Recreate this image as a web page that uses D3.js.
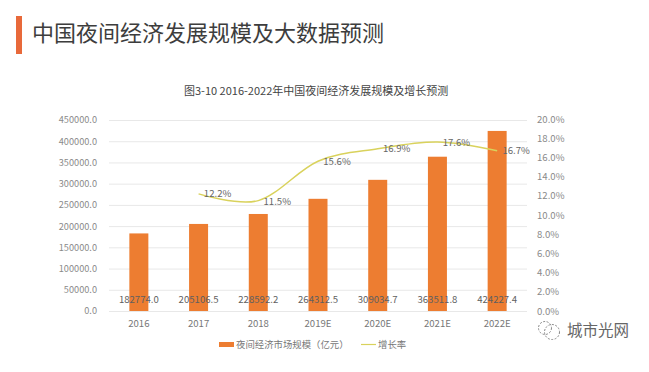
<!DOCTYPE html>
<html>
<head>
<meta charset="utf-8">
<script src="https://cdn.jsdelivr.net/npm/d3@7"></script>
<style>
  html, body { margin: 0; padding: 0; background: #fff; }
  svg { display: block; }
  text { font-family: "Noto Sans CJK SC", "Noto Sans", sans-serif; }
</style>
</head>
<body>
<svg id="chart" width="649" height="372"></svg>
<script>
const years = ["2016", "2017", "2018", "2019E", "2020E", "2021E", "2022E"];
const market = [182774.0, 205106.5, 228592.2, 264312.5, 309034.7, 363511.8, 424227.4];
const growth = [null, 12.2, 11.5, 15.6, 16.9, 17.6, 16.7];
const left_ticks = [0, 50000, 100000, 150000, 200000, 250000, 300000, 350000, 400000, 450000];
const right_ticks = [0, 2, 4, 6, 8, 10, 12, 14, 16, 18, 20];

const svg = d3.select("#chart");

const dim = {left: 109, right: 527, top: 120, bottom: 311};

const x = d3.scaleBand().domain(years).range([dim.left, dim.right]);
const y = d3.scaleLinear().domain([0, 450000]).range([dim.bottom, dim.top]);
const y2 = d3.scaleLinear().domain([0, 20]).range([dim.bottom, dim.top - 1]);

// page heading
svg.append("rect")
  .attr("x", 16).attr("y", 16)
  .attr("width", 6).attr("height", 38)
  .style("fill", "#e8693a");

svg.append("text")
  .attr("x", 32).attr("y", 41)
  .style("font-size", "22px")
  .style("fill", "#3d3d3d")
  .text("中国夜间经济发展规模及大数据预测");

svg.append("text")
  .attr("x", 184).attr("y", 95)
  .style("font-size", "11px")
  .style("fill", "#444")
  .text("图3-10 2016-2022年中国夜间经济发展规模及增长预测");

// grid + axes
const y_axis = svg.append("g")
  .attr("transform", "translate(" + dim.left + ",0)")
  .call(d3.axisLeft(y).tickValues(left_ticks).tickFormat(d => d.toFixed(1)).tickSize(0).tickPadding(12));

y_axis.select(".domain").remove();
y_axis.selectAll("text")
  .style("font-size", "9.2px")
  .style("fill", "#8a8a8a");

y_axis.selectAll("g.tick")
  .append("line")
  .attr("x1", 0)
  .attr("x2", dim.right - dim.left)
  .style("stroke", "#e8e8e8");

const y2_axis = svg.append("g")
  .attr("transform", "translate(" + dim.right + ",0)")
  .call(d3.axisRight(y2).tickValues(right_ticks).tickFormat(d => d.toFixed(1) + "%").tickSize(0).tickPadding(10));

y2_axis.select(".domain").remove();
y2_axis.selectAll("text")
  .style("font-size", "9.6px")
  .style("fill", "#8a8a8a");

const x_axis = svg.append("g")
  .attr("transform", "translate(0," + dim.bottom + ")")
  .call(d3.axisBottom(x).tickSize(0).tickPadding(9));

x_axis.select(".domain").remove();
x_axis.selectAll("text")
  .style("font-size", "9.6px")
  .style("fill", "#777");

// bars
const bar_w = 19;
svg.append("g").selectAll("rect")
  .data(market)
  .join("rect")
  .attr("x", (d, i) => x(years[i]) + x.bandwidth() / 2 - bar_w / 2)
  .attr("y", d => y(d))
  .attr("width", bar_w)
  .attr("height", d => y(0) - y(d))
  .style("fill", "#ed7d31");

// growth line
const line_data = growth.map((d, i) => ({year: years[i], value: d})).filter(d => d.value !== null);

const line = d3.line()
  .x(d => x(d.year) + x.bandwidth() / 2)
  .y(d => y2(d.value))
  .curve(d3.curveCatmullRom.alpha(0));

svg.append("path")
  .datum(line_data)
  .attr("d", line)
  .style("fill", "none")
  .style("stroke", "#d9d25c")
  .style("stroke-width", 1.5);

// data labels
svg.append("g").selectAll("text")
  .data(market)
  .join("text")
  .attr("x", (d, i) => x(years[i]) + x.bandwidth() / 2)
  .attr("y", 303)
  .style("text-anchor", "middle")
  .style("font-size", "9.6px")
  .style("fill", "#5f5f5f")
  .text(d => d.toFixed(1));

svg.append("g").selectAll("text")
  .data(line_data)
  .join("text")
  .attr("x", d => x(d.year) + x.bandwidth() / 2 + 19)
  .attr("y", (d, i) => y2(d.value) + [3.5, 4.5, 4, 3.5, 3.5, 3.5][i])
  .style("text-anchor", "middle")
  .style("font-size", "9.6px")
  .style("fill", "#666")
  .text(d => d.value.toFixed(1) + "%");

// legend
const legend = svg.append("g");

legend.append("rect")
  .attr("x", 219).attr("y", 342)
  .attr("width", 15).attr("height", 5)
  .style("fill", "#ed7d31");

legend.append("text")
  .attr("x", 236).attr("y", 348)
  .style("font-size", "9.4px")
  .style("fill", "#777")
  .text("夜间经济市场规模（亿元）");

legend.append("line")
  .attr("x1", 361).attr("x2", 376)
  .attr("y1", 344.5).attr("y2", 344.5)
  .style("stroke", "#d9d25c")
  .style("stroke-width", 1.2);

legend.append("text")
  .attr("x", 378).attr("y", 348)
  .style("font-size", "9.4px")
  .style("fill", "#777")
  .text("增长率");

// watermark
const mark = svg.append("g").style("fill", "none").style("stroke", "#888");

mark.append("circle")
  .attr("cx", 545).attr("cy", 328).attr("r", 6.5)
  .style("stroke-dasharray", "2 1.5");

mark.append("circle")
  .attr("cx", 552).attr("cy", 332).attr("r", 7.5)
  .style("stroke-dasharray", "2 1.5");

svg.append("text")
  .attr("x", 567).attr("y", 336)
  .style("font-size", "15.5px")
  .style("fill", "#666")
  .text("城市光网");
</script>
</body>
</html>
